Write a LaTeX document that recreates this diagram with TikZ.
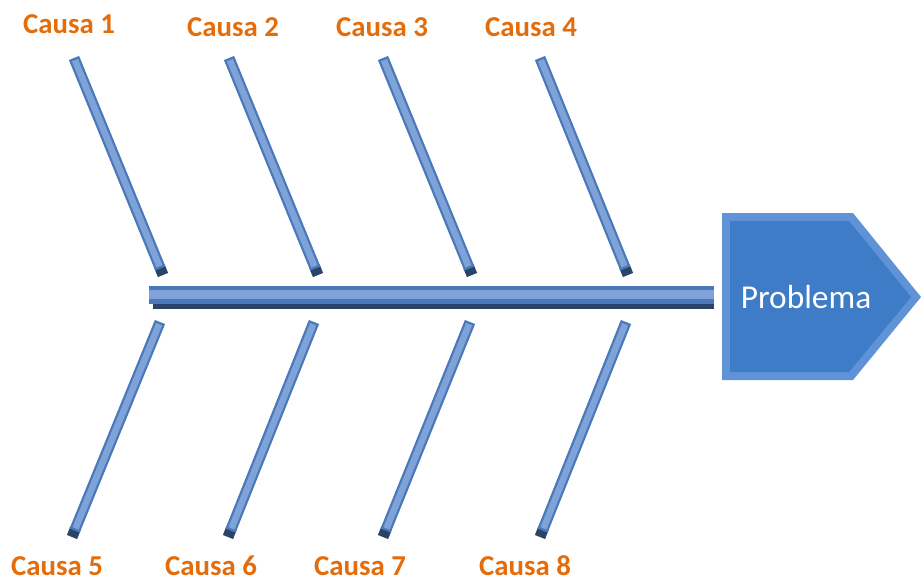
\documentclass[tikz,border=0pt]{standalone}
\usepackage{fontspec}
\setmainfont{Carlito}
\usetikzlibrary{calc}
\definecolor{causaorange}{HTML}{E46C0A}
\definecolor{boneblue}{HTML}{4A78B8}
\definecolor{bonelight}{HTML}{7FA3D8}
\definecolor{boneshadow}{HTML}{2A4468}
\definecolor{probblue}{HTML}{3E7CC7}
\definecolor{probedge}{HTML}{5F92D6}

\begin{document}
\begin{tikzpicture}[x=0.2mm,y=-0.2mm,
  causa/.style={text=causaorange,font=\bfseries\fontsize{16.4}{18}\selectfont,inner sep=0pt},
  bone/.style={line width=2.2mm,boneblue},
  bonehi/.style={line width=1.3mm,bonelight},
  bonetip/.style={line width=2.2mm,boneshadow}]
\useasboundingbox (0,0) rectangle (921,582);
\node[causa] (c1) at (69,24) {Causa 1};
\node[causa] (c2) at (233,27) {Causa 2};
\node[causa] (c3) at (382,27) {Causa 3};
\node[causa] (c4) at (531,27) {Causa 4};
\node[causa] (c5) at (57,566) {Causa 5};
\node[causa] (c6) at (211,566) {Causa 6};
\node[causa] (c7) at (360,566) {Causa 7};
\node[causa] (c8) at (525,566) {Causa 8};
\coordinate (t1) at (74,58); \coordinate (b1) at (163,275);
\coordinate (t2) at (229,58); \coordinate (b2) at (318,275);
\coordinate (t3) at (383,58); \coordinate (b3) at (472,275);
\coordinate (t4) at (540,58); \coordinate (b4) at (628,275);
\coordinate (t5) at (160,322); \coordinate (b5) at (72,537);
\coordinate (t6) at (314,322); \coordinate (b6) at (228,537);
\coordinate (t7) at (470,322); \coordinate (b7) at (383,537);
\coordinate (t8) at (626,322); \coordinate (b8) at (540,537);
\foreach \i in {1,...,8}{
  \draw[bonetip] ($(t\i)!0.96!(b\i)$) -- (b\i);
  \draw[bone] (t\i) -- ($(t\i)!0.97!(b\i)$);
  \draw[bonehi] ($(t\i)!0.01!(b\i)$) -- ($(t\i)!0.96!(b\i)$);
}
\fill[boneshadow] (153,297) rectangle (714,309);
\fill[boneblue] (149,286) rectangle (714,304);
\fill[bonelight] (149,290) rectangle (714,299);
\fill[probedge] (722,213) -- (853,213) -- (921,297) -- (853,380) -- (722,380) -- cycle;
\fill[probblue] (730,221) -- (849,221) -- (911,297) -- (849,372) -- (730,372) -- cycle;
\node[text=white,font=\fontsize{19}{21}\selectfont,inner sep=0pt] (prob) at (806,297) {Problema};
\end{tikzpicture}
\end{document}
